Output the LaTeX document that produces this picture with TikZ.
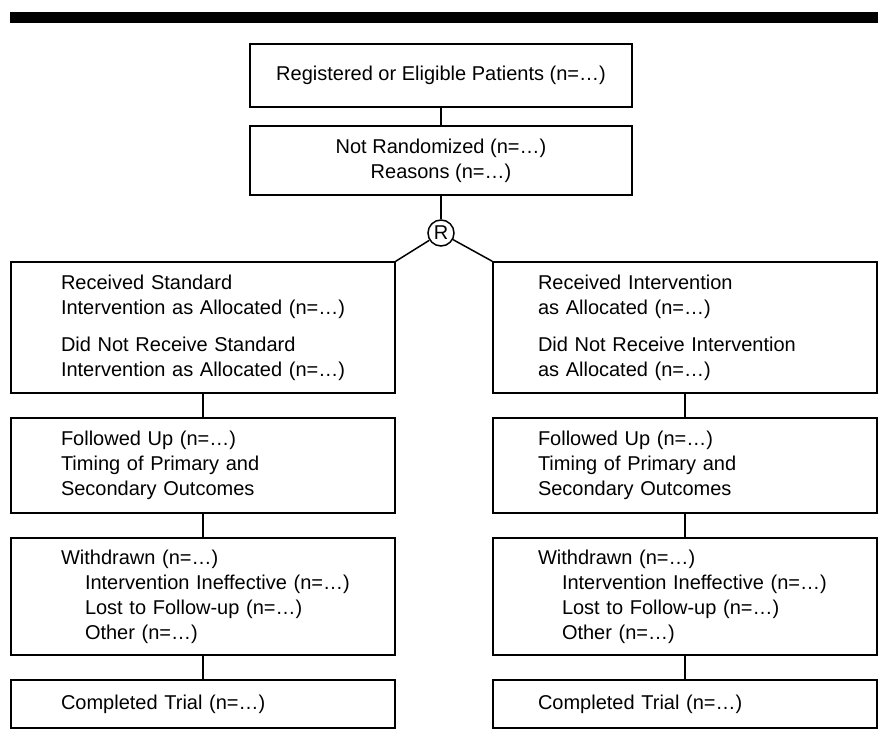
\documentclass[tikz,border=0pt]{standalone}
\usepackage{fontspec}
\setmainfont{Liberation Sans}
\begin{document}
\begin{tikzpicture}[x=1pt,y=-1pt,
  every node/.style={font=\fontsize{20pt}{25pt}\selectfont},
  box/.style={draw, line width=1.5pt, rectangle, inner sep=0pt},
  cbox/.style={box, align=center, minimum width=382pt},
  lbox/.style={box, align=left, inner xsep=50pt, text width=284pt},
  rbox/.style={box, align=left, inner xsep=45pt, text width=294pt},
  conn/.style={line width=1.5pt}]
\useasboundingbox (0,0) rectangle (878,736);
\fill (9.5,12) rectangle (878,23.3);

\node[cbox, minimum height=63pt] (top) at (441,75.5) {Registered or Eligible Patients (n=…)};
\node[cbox, minimum height=69pt] (nr) at (441,160.5) {Not Randomized (n=…)\\Reasons (n=…)};
\node[draw, circle, line width=1.5pt, minimum size=26pt, inner sep=0pt] (R) at (441,233) {R};

\node[lbox, minimum height=131pt] (A1) at (203,327.5) {\mbox{Received Standard}\\\mbox{Intervention as Allocated (n=…)}\\[12pt]\mbox{Did Not Receive Standard}\\\mbox{Intervention as Allocated (n=…)}};
\node[rbox, minimum height=131pt] (B1) at (685,327.5) {\mbox{Received Intervention}\\\mbox{as Allocated (n=…)}\\[12pt]\mbox{Did Not Receive Intervention}\\\mbox{as Allocated (n=…)}};

\node[lbox, minimum height=95pt] (A2) at (203,465.5) {Followed Up (n=…)\\Timing of Primary and\\Secondary Outcomes};
\node[rbox, minimum height=95pt] (B2) at (685,465.5) {Followed Up (n=…)\\Timing of Primary and\\Secondary Outcomes};

\node[lbox, minimum height=117pt] (A3) at (203,596.5) {Withdrawn (n=…)\\\mbox{\hspace*{24pt}Intervention Ineffective (n=…)}\\\mbox{\hspace*{24pt}Lost to Follow-up (n=…)}\\\mbox{\hspace*{24pt}Other (n=…)}};
\node[rbox, minimum height=117pt] (B3) at (685,596.5) {Withdrawn (n=…)\\\mbox{\hspace*{24pt}Intervention Ineffective (n=…)}\\\mbox{\hspace*{24pt}Lost to Follow-up (n=…)}\\\mbox{\hspace*{24pt}Other (n=…)}};

\node[lbox, minimum height=48pt] (A4) at (203,704) {Completed Trial (n=…)};
\node[rbox, minimum height=48pt] (B4) at (685,704) {Completed Trial (n=…)};

\draw[conn] (top) -- (nr);
\draw[conn] (nr) -- (R);
\draw[conn] (R) -- (A1.north east);
\draw[conn] (R) -- (B1.north west);
\draw[conn] (A1) -- (A2);
\draw[conn] (A2) -- (A3);
\draw[conn] (A3) -- (A4);
\draw[conn] (B1) -- (B2);
\draw[conn] (B2) -- (B3);
\draw[conn] (B3) -- (B4);
\end{tikzpicture}
\end{document}
